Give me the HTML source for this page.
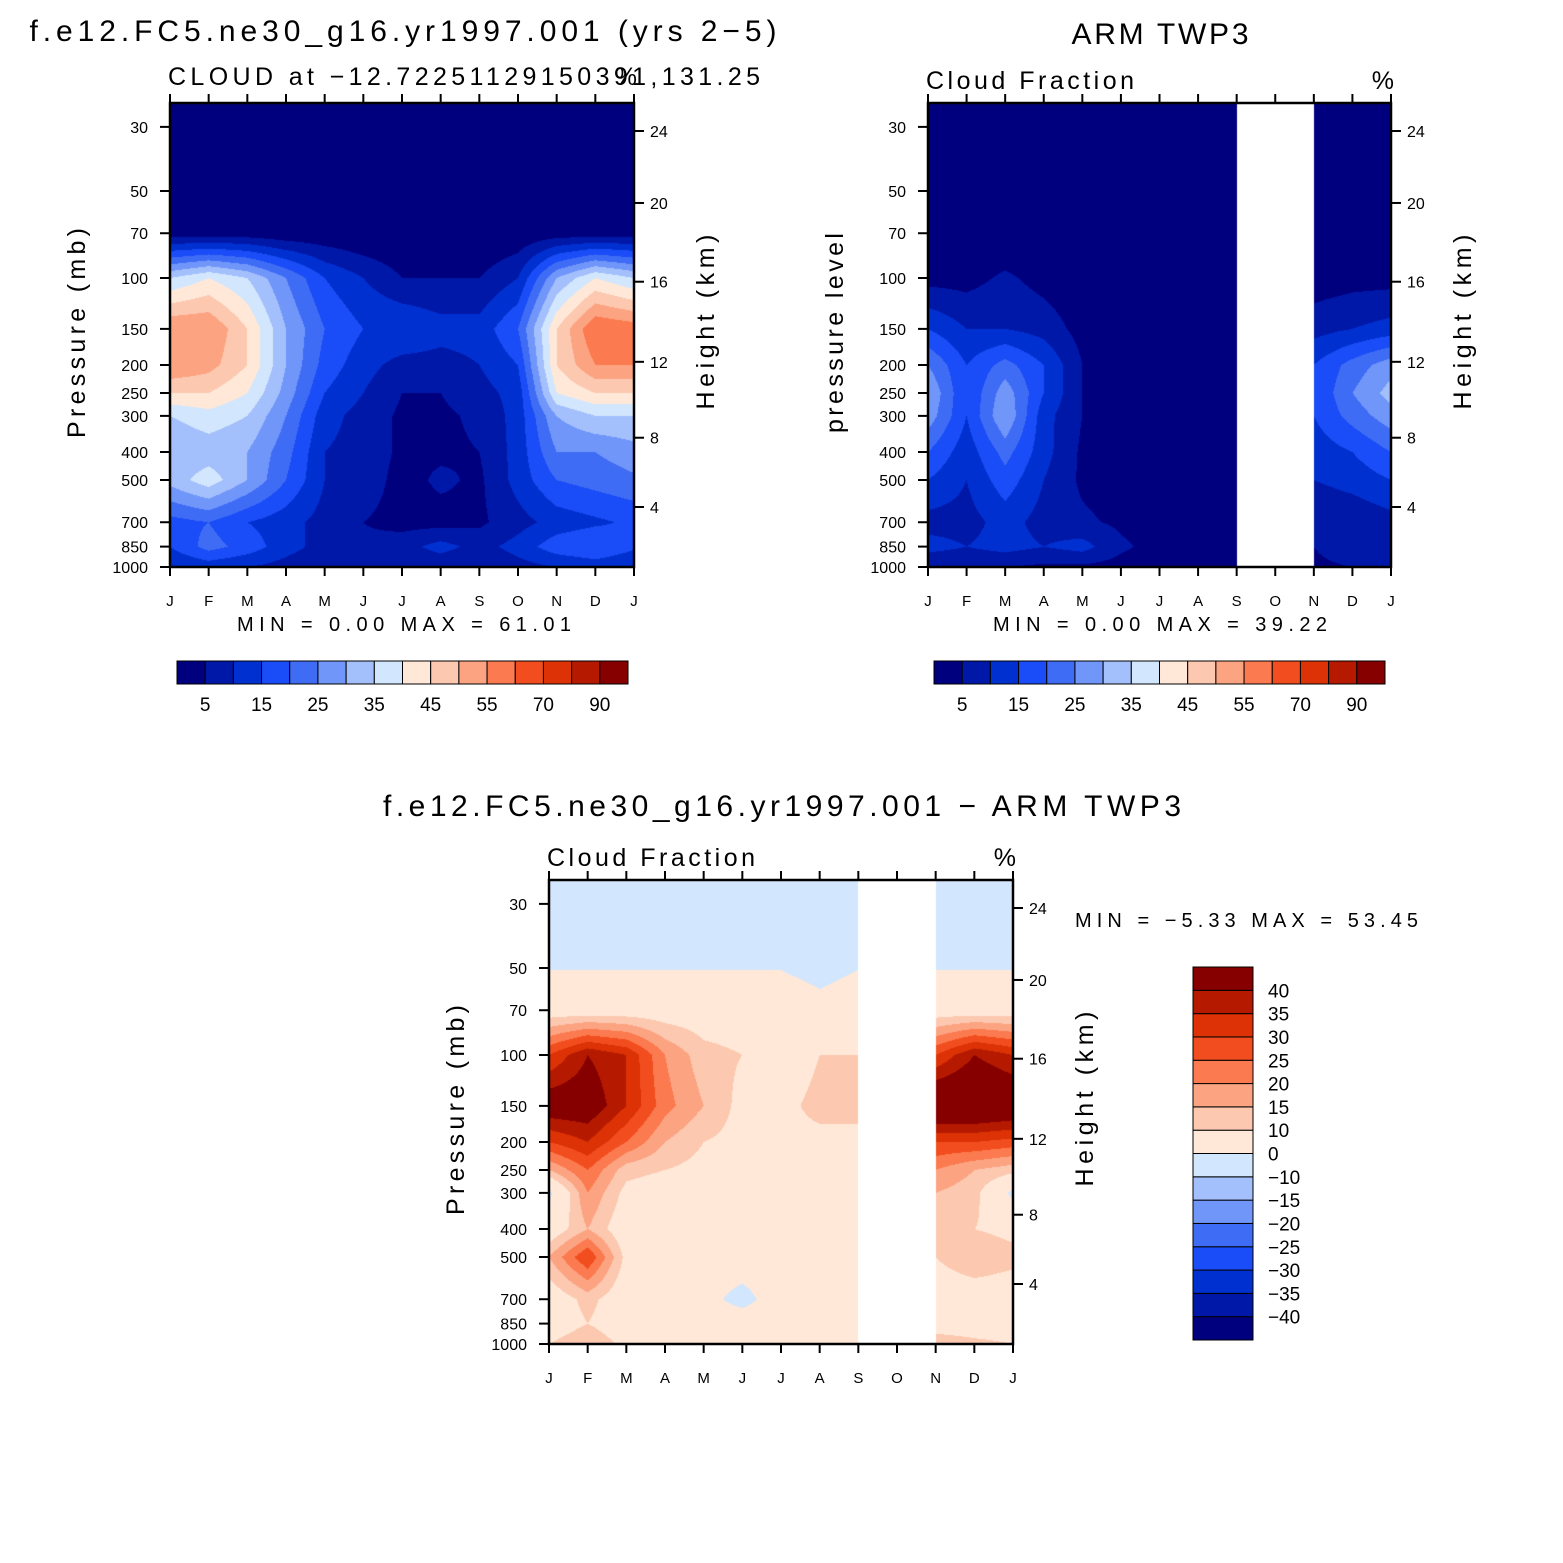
<!DOCTYPE html>
<html><head><meta charset="utf-8">
<style>
body{margin:0;background:#fff;}
#wrap{position:relative;width:1563px;height:1563px;overflow:hidden;background:#fff;font-family:"Liberation Sans",sans-serif;}
canvas{position:absolute;}
svg{position:absolute;left:0;top:0;}
</style></head>
<body>
<div id="wrap">
<canvas id="c1" width="464" height="464" style="left:170px;top:103px"></canvas>
<canvas id="c2" width="463" height="464" style="left:928px;top:103px"></canvas>
<canvas id="c3" width="464" height="464" style="left:549px;top:880px"></canvas>
<svg id="ov" width="1563" height="1563"></svg>
</div>
<script>
const months = ['J','F','M','A','M','J','J','A','S','O','N','D','J'];
const levels = [1000,850,700,500,400,300,250,200,150,100,70,50,30];
const pTicks = [30,50,70,100,150,200,250,300,400,500,700,850,1000];
const hTicks = [4,8,12,16,20,24];
const hTickP = [620,357,195,103,55,31];
const cb1Levels = [5,10,15,20,25,30,35,40,45,50,55,60,70,80,90];
const cb1Labels = ['5','15','25','35','45','55','70','90'];
const cb3Levels = [-40,-35,-30,-25,-20,-15,-10,0,10,15,20,25,30,35,40];
const cb3Labels = ['40','35','30','25','20','15','10','0','−10','−15','−20','−25','−30','−35','−40'];
const colors = ['#00007f','#0018a8','#0030d0','#1a4cf7','#3f6cf5','#7096fa','#a3bffc','#d2e6fd','#ffe8d8','#fdc8b0','#fca482','#fb7a4f','#f24d1e','#dc3205','#b51a00','#860000'];
// model cloud fraction, rows = levels (1000..30), cols = months
const model = [
[10,12,10,8,6,6,5,6,5,8,10,12,10],
[15,22,18,12,8,6,8,12,8,12,18,20,16],
[18,20,15,12,8,5,3,3,4,8,12,14,16],
[32,38,30,20,10,8,3,6,4,12,20,22,24],
[30,32,30,22,10,8,4,4,5,12,25,25,28],
[35,38,35,25,12,8,4,4,6,12,30,35,35],
[45,45,40,28,15,10,5,5,8,12,40,45,45],
[55,52,45,30,18,12,8,8,10,15,45,55,55],
[55,55,45,30,20,15,15,12,12,20,45,60,58],
[35,40,35,25,15,10,5,5,5,10,30,40,35],
[2,2,2,1,1,0,0,0,0,1,2,2,2],
[0,0,0,0,0,0,0,0,0,0,0,0,0],
[0,0,0,0,0,0,0,0,0,0,0,0,0]];
const obs = [
[5,5,5,4,4,3,2,2,2,null,4,5,5],
[12,10,12,10,12,6,3,2,2,null,5,8,10],
[8,8,12,8,6,4,2,2,2,null,5,6,8],
[15,10,18,10,4,2,1,1,1,null,10,12,15],
[20,12,22,12,4,1,1,1,1,null,12,15,20],
[28,15,30,12,5,1,1,1,1,null,15,22,28],
[30,15,28,15,5,1,1,1,1,null,15,25,32],
[25,15,22,15,5,1,1,1,1,null,15,22,28],
[15,10,10,8,3,1,1,1,1,null,8,10,12],
[3,3,6,3,1,1,1,1,1,null,2,3,3],
[0,0,0,0,0,0,0,0,0,null,0,0,0],
[0,0,0,0,0,0,0,0,0,null,0,0,0],
[0,0,0,0,0,0,0,0,0,null,0,0,0]];
const diff = [
[10,15,8,5,5,5,5,5,5,null,15,12,10],
[5,10,5,8,5,5,5,5,5,null,5,5,5],
[5,12,5,5,3,-3,5,5,5,null,5,5,5],
[15,30,8,5,5,5,5,5,5,null,10,15,12],
[5,15,5,5,5,5,5,5,5,null,12,10,8],
[-2,20,8,6,6,5,5,5,5,null,15,12,-2],
[15,25,12,10,8,6,6,5,5,null,20,15,12],
[30,35,25,15,10,8,8,8,8,null,30,30,28],
[45,45,35,22,15,8,8,12,12,null,50,50,48],
[30,40,35,20,12,10,5,10,10,null,30,40,35],
[6,6,6,6,6,6,6,3,6,null,6,6,6],
[-0.3,-0.3,-0.3,-0.3,-0.3,-0.3,-0.3,-3,-0.3,null,-0.3,-0.3,-0.3],
[-5,-5,-5,-5,-5,-5,-5,-5,-5,null,-5,-5,-5]];

const H=464, PTOP=24.8;
function yOfP(p,top,h){return top+h*(1-Math.log(1000/p)/Math.log(1000/PTOP));}
function xOfM(i,left,w){return left+w*i/12;}
function sample(data,mi,p){
  const lp=Math.log(Math.min(1000,Math.max(30,p)));
  let k=0; while(k<levels.length-2 && lp<Math.log(levels[k+1])) k++;
  const a=Math.log(levels[k]),b=Math.log(levels[k+1]);
  let t=(a-lp)/(a-b); t=Math.max(0,Math.min(1,t));
  const i=Math.min(11,Math.floor(mi)); const s=mi-i;
  const v00=data[k][i],v01=data[k][i+1],v10=data[k+1][i],v11=data[k+1][i+1];
  if(v00===null||v01===null||v10===null||v11===null) return null;
  return (v00*(1-s)+v01*s)*(1-t)+(v10*(1-s)+v11*s)*t;
}
function hex(c){return [parseInt(c.substr(1,2),16),parseInt(c.substr(3,2),16),parseInt(c.substr(5,2),16)];}
const rgb=colors.map(hex);
function drawFill(id,data,lv,w,missing){
  const cv=document.getElementById(id),ctx=cv.getContext('2d');
  const img=ctx.createImageData(w,H);
  for(let y=0;y<H;y++){
    const pp=PTOP*Math.exp((y+0.5)/H*Math.log(1000/PTOP));
    for(let x=0;x<w;x++){
      const mi=(x+0.5)/w*12;
      let v=null;
      if(!(missing && mi>=missing[0] && mi<=missing[1])) v=sample(data,mi,pp);
      const o=(y*w+x)*4;
      if(v===null){img.data[o]=255;img.data[o+1]=255;img.data[o+2]=255;img.data[o+3]=255;continue;}
      let ci=0; while(ci<lv.length && v>=lv[ci]) ci++;
      const c=rgb[ci];
      img.data[o]=c[0];img.data[o+1]=c[1];img.data[o+2]=c[2];img.data[o+3]=255;
    }
  }
  ctx.putImageData(img,0,0);
}
drawFill('c1',model,cb1Levels,464,null);
drawFill('c2',obs,cb1Levels,463,[8,10]);
drawFill('c3',diff,cb3Levels,464,[8,10]);

const NS='http://www.w3.org/2000/svg', ov=document.getElementById('ov');
function el(tag,attrs,txt){const e=document.createElementNS(NS,tag);for(const k in attrs)e.setAttribute(k,attrs[k]);if(txt!==undefined)e.textContent=txt;ov.appendChild(e);return e;}
function text(x,y,s,size,anchor,name,rot,len){
  const e=el('text',{x:x,y:y,'font-size':size,'text-anchor':anchor||'start','font-family':'Liberation Sans, sans-serif',fill:'#000'},s);
  if(rot) e.setAttribute('transform','rotate(-90 '+x+' '+y+')');
  if(len){e.setAttribute('textLength',len);e.setAttribute('lengthAdjust','spacing');}
  
  
  return e;
}
function line(x1,y1,x2,y2,w,name){
  const e=el('line',{x1:x1,y1:y1,x2:x2,y2:y2,stroke:'#000','stroke-width':w||2});
  
  
}
function axes(L,T,W,leftTitle,pfx,ltLen){
  const r=el('rect',{x:L,y:T,width:W,height:H,fill:'none',stroke:'#000','stroke-width':2.5});
  
  
  months.forEach((m,i)=>{
    const x=xOfM(i,L,W);
    line(x,T+H,x,T+H+9,2,pfx+'-x-tick');
    line(x,T,x,T-9,2,pfx+'-top-tick');
    text(x,T+H+39,m,15,'middle',pfx+'-x-tick-label');
  });
  pTicks.forEach(p=>{
    const y=yOfP(p,T,H);
    line(L-10,y,L,y,2,pfx+'-y-tick');
    text(L-22,y+6,String(p),16,'end',pfx+'-y-tick-label');
  });
  hTicks.forEach((h,i)=>{
    const y=yOfP(hTickP[i],T,H);
    line(L+W,y,L+W+10,y,2,pfx+'-height-tick');
    text(L+W+16,y+6,String(h),16,'start',pfx+'-height-tick-label');
  });
  text(L-85,T+H/2-2,leftTitle,25,'middle',pfx+'-y-axis-title',true,ltLen);
  text(L+W+80,T+H/2-13,'Height (km)',25,'middle',pfx+'-height-axis-title',true,175);
}
axes(170,103,464,'Pressure (mb)','model',210);
axes(928,103,463,'pressure level','obs',200);
axes(549,880,464,'Pressure (mb)','diff',210);

text(403,41,'f.e12.FC5.ne30_g16.yr1997.001 (yrs 2−5)',30,'middle','model-title',false,747);
text(168,85,'CLOUD at −12.72251129150391,131.25',25,'start','model-subtitle',false,592);
text(637,85,'%',25,'end','model-units');
text(404,631,'MIN =    0.00  MAX =   61.01',20,'middle','model-min-max',false,334);

text(1160,44,'ARM TWP3',30,'middle','obs-title',false,177);
text(926,89,'Cloud Fraction',25,'start','obs-subtitle',false,208);
text(1394,89,'%',25,'end','obs-units');
text(1160,631,'MIN =    0.00  MAX =   39.22',20,'middle','obs-min-max',false,334);

text(782,816,'f.e12.FC5.ne30_g16.yr1997.001 − ARM TWP3',30,'middle','diff-title',false,798);
text(547,866,'Cloud Fraction',25,'start','diff-subtitle',false,208);
text(1016,866,'%',25,'end','diff-units');
text(1075,927,'MIN =   −5.33  MAX =   53.45',20,'start','diff-min-max',false,343);

function hbar(L,T,pfx){
  const bw=451/16;
  colors.forEach((c,i)=>{
    const r=el('rect',{x:L+i*bw,y:T,width:bw,height:23,fill:c,stroke:'#000','stroke-width':1});
    
    
  });
  cb1Labels.forEach((s,i)=>{
    text(L+bw*(1+2*i),T+50,s,19,'middle',pfx+'-colorbar-label');
  });
}
hbar(177,661,'model');
hbar(934,661,'obs');
(function(){
  const L=1193,T=967,bh=373/16;
  colors.forEach((c,i)=>{
    const r=el('rect',{x:L,y:T+(15-i)*bh,width:60,height:bh,fill:c,stroke:'#000','stroke-width':1});
    
    
  });
  cb3Labels.forEach((s,i)=>{
    text(L+75,T+(i+1)*bh+7,s,19,'start','diff-colorbar-label');
  });
})();
</script>
</body></html>
